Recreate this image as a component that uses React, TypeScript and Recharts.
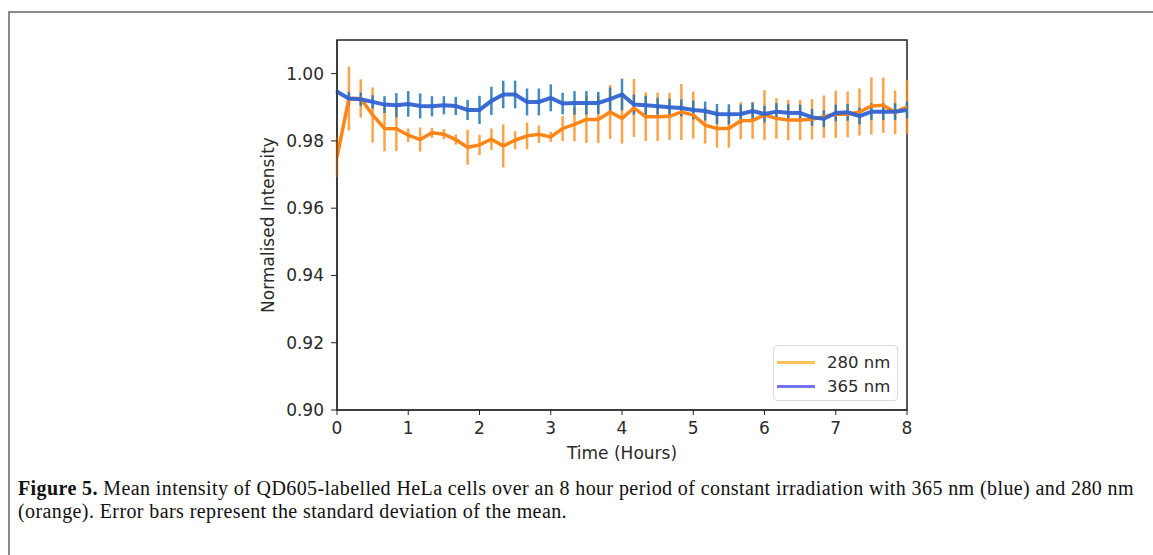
import React from 'react';
import {
  ComposedChart,
  Line,
  ErrorBar,
  XAxis,
  YAxis,
  ReferenceArea,
} from 'recharts';

// time points, every 10 minutes
const hours = [
  0, 0.167, 0.333, 0.5, 0.667, 0.833, 1, 1.167, 1.333, 1.5, 1.667, 1.833,
  2, 2.167, 2.333, 2.5, 2.667, 2.833, 3, 3.167, 3.333, 3.5, 3.667, 3.833,
  4, 4.167, 4.333, 4.5, 4.667, 4.833, 5, 5.167, 5.333, 5.5, 5.667, 5.833,
  6, 6.167, 6.333, 6.5, 6.667, 6.833, 7, 7.167, 7.333, 7.5, 7.667, 7.833, 8,
];

const int280 = [
  0.9752, 0.9926, 0.9926, 0.9877, 0.9837, 0.9836, 0.9817, 0.9804, 0.9824, 0.982, 0.9804, 0.9781,
  0.9788, 0.9805, 0.9785, 0.9802, 0.9815, 0.982, 0.9812, 0.9837, 0.9849, 0.9864, 0.9864, 0.9886,
  0.9867, 0.9898, 0.9872, 0.9872, 0.9873, 0.9886, 0.9877, 0.9847, 0.9837, 0.9837, 0.986, 0.9861,
  0.9877, 0.9867, 0.9862, 0.9862, 0.9864, 0.9872, 0.9879, 0.9879, 0.9886, 0.9904, 0.9906, 0.9885,
  0.9901,
];

const err280 = [
  0.006, 0.0095, 0.0057, 0.0082, 0.0068, 0.0066, 0.002, 0.0036, 0.0015, 0.0015, 0.0015, 0.0052,
  0.003, 0.0032, 0.0064, 0.0027, 0.004, 0.0026, 0.0015, 0.0037, 0.005, 0.007, 0.007, 0.008,
  0.0075, 0.0086, 0.0072, 0.0072, 0.007, 0.0083, 0.007, 0.0055, 0.0057, 0.0057, 0.0055, 0.0055,
  0.0074, 0.006, 0.006, 0.006, 0.006, 0.0063, 0.007, 0.0068, 0.007, 0.0085, 0.0082, 0.0065,
  0.008,
];

const int365 = [
  0.9946, 0.9926, 0.9924, 0.9916, 0.9908, 0.9906, 0.991, 0.9904, 0.9903, 0.9906, 0.9904, 0.9892,
  0.9892, 0.9919, 0.9938, 0.9938, 0.9916, 0.9916, 0.9928, 0.9911, 0.9913, 0.9913, 0.9913, 0.9924,
  0.9938, 0.9908, 0.9906, 0.9903, 0.99, 0.9898, 0.9892, 0.9889, 0.988, 0.9879, 0.988, 0.9889,
  0.988, 0.9887, 0.9884, 0.9883, 0.987, 0.9866, 0.9883, 0.9885, 0.9874, 0.9887, 0.9887, 0.9887,
  0.9892,
];

const err365 = [
  0.0008, 0.002, 0.002, 0.002, 0.0025, 0.0036, 0.0038, 0.0037, 0.003, 0.0027, 0.0027, 0.003,
  0.0042, 0.0042, 0.0041, 0.0041, 0.004, 0.004, 0.004, 0.0032, 0.0035, 0.0035, 0.0033, 0.0035,
  0.0047, 0.003, 0.0028, 0.0025, 0.0025, 0.0025, 0.0028, 0.0028, 0.003, 0.003, 0.0028, 0.0025,
  0.0025, 0.0025, 0.0025, 0.0025, 0.0025, 0.0025, 0.0025, 0.0025, 0.0025, 0.0025, 0.0025, 0.0025,
  0.0025,
];

const xTicks = [0, 1, 2, 3, 4, 5, 6, 7, 8];
const yTicks = [0.9, 0.92, 0.94, 0.96, 0.98, 1.0];

const legendItems = [
  { name: '280 nm', color: '#fdc15a' },
  { name: '365 nm', color: '#7373f0' },
];

const data = hours.map((t, i) => ({
  t,
  i280: int280[i],
  e280: err280[i],
  i365: int365[i],
  e365: err365[i],
}));

const axisFont = { fontFamily: 'DejaVu Sans', fontSize: 17, fill: '#2a2a2a' };

export default function App() {
  return (
    <div style={{ position: 'absolute', left: 0, top: 0, width: 1153, height: 555, background: '#fff', overflow: 'hidden' }}>
      {/* figure frame */}
      <div
        style={{
          position: 'absolute',
          left: 8,
          top: 11,
          width: 1160,
          height: 560,
          borderLeft: '2px solid #8a8a8a',
          borderTop: '2px solid #8a8a8a',
        }}
      />
      <div style={{ position: 'absolute', left: 0, top: 0 }}>
        <ComposedChart
          width={1153}
          height={480}
          data={data}
          margin={{ top: 40, right: 246, left: 257, bottom: 20 }}
        >
          <XAxis
            dataKey="t"
            type="number"
            domain={[0, 8]}
            ticks={xTicks}
            allowDataOverflow
            tickSize={5}
            tickMargin={7}
            height={50}
            stroke="#222"
            tick={axisFont}
            label={{ value: 'Time (Hours)', position: 'insideBottom', offset: 1, style: axisFont }}
          />
          <YAxis
            type="number"
            domain={[0.9, 1.01]}
            ticks={yTicks}
            allowDataOverflow
            tickFormatter={(v: number) => v.toFixed(2)}
            tickSize={6}
            tickMargin={7}
            width={80}
            stroke="#222"
            tick={axisFont}
            label={{ value: 'Normalised Intensity', angle: -90, position: 'center', dx: -29, style: axisFont }}
          />
          <ReferenceArea x1={0} x2={8} y1={0.9} y2={1.01} fill="none" stroke="#222" strokeWidth={1.5} strokeOpacity={1} />

          {/* error bars first, lines on top */}
          <Line dataKey="i280" stroke="none" dot={false} isAnimationActive={false} legendType="none">
            <ErrorBar dataKey="e280" direction="y" width={0} stroke="rgba(255,140,30,0.8)" strokeWidth={2.5} />
          </Line>
          <Line dataKey="i365" stroke="none" dot={false} isAnimationActive={false} legendType="none">
            <ErrorBar dataKey="e365" direction="y" width={0} stroke="rgba(31,119,180,0.85)" strokeWidth={2.5} />
          </Line>
          <Line
            dataKey="i280"
            type="linear"
            stroke="#ff8517"
            strokeWidth={3.5}
            dot={false}
            isAnimationActive={false}
          />
          <Line
            dataKey="i365"
            type="linear"
            stroke="#3363d2"
            strokeWidth={4}
            strokeOpacity={0.95}
            dot={false}
            isAnimationActive={false}
          />
        </ComposedChart>
      </div>

      {/* legend */}
      <div
        style={{
          position: 'absolute',
          left: 773,
          top: 345,
          width: 125,
          height: 56,
          border: '1px solid #dcdcdc',
          borderRadius: 4,
          background: 'rgba(255,255,255,0.85)',
          boxSizing: 'border-box',
          fontFamily: 'DejaVu Sans',
          fontSize: 16.5,
          color: '#2a2a2a',
        }}
      >
        {legendItems.map((it, i) => (
          <div key={it.name} style={{ position: 'absolute', left: 3, top: 5 + i * 24, height: 22, display: 'flex', alignItems: 'center' }}>
            <span style={{ display: 'inline-block', width: 38, height: 3, background: it.color, marginRight: 12 }} />
            <span>{it.name}</span>
          </div>
        ))}
      </div>

      {/* caption */}
      <div
        style={{
          position: 'absolute',
          left: 18,
          top: 477,
          width: 1135,
          whiteSpace: 'nowrap',
          fontFamily: '"Liberation Serif", serif',
          fontSize: 20,
          lineHeight: '23px',
          color: '#111',
          letterSpacing: 0.4,
        }}
      >
        <b>Figure 5.</b> Mean intensity of QD605-labelled HeLa cells over an 8 hour period of constant irradiation with 365 nm (blue) and 280 nm
        <br />
        (orange). Error bars represent the standard deviation of the mean.
      </div>
    </div>
  );
}
